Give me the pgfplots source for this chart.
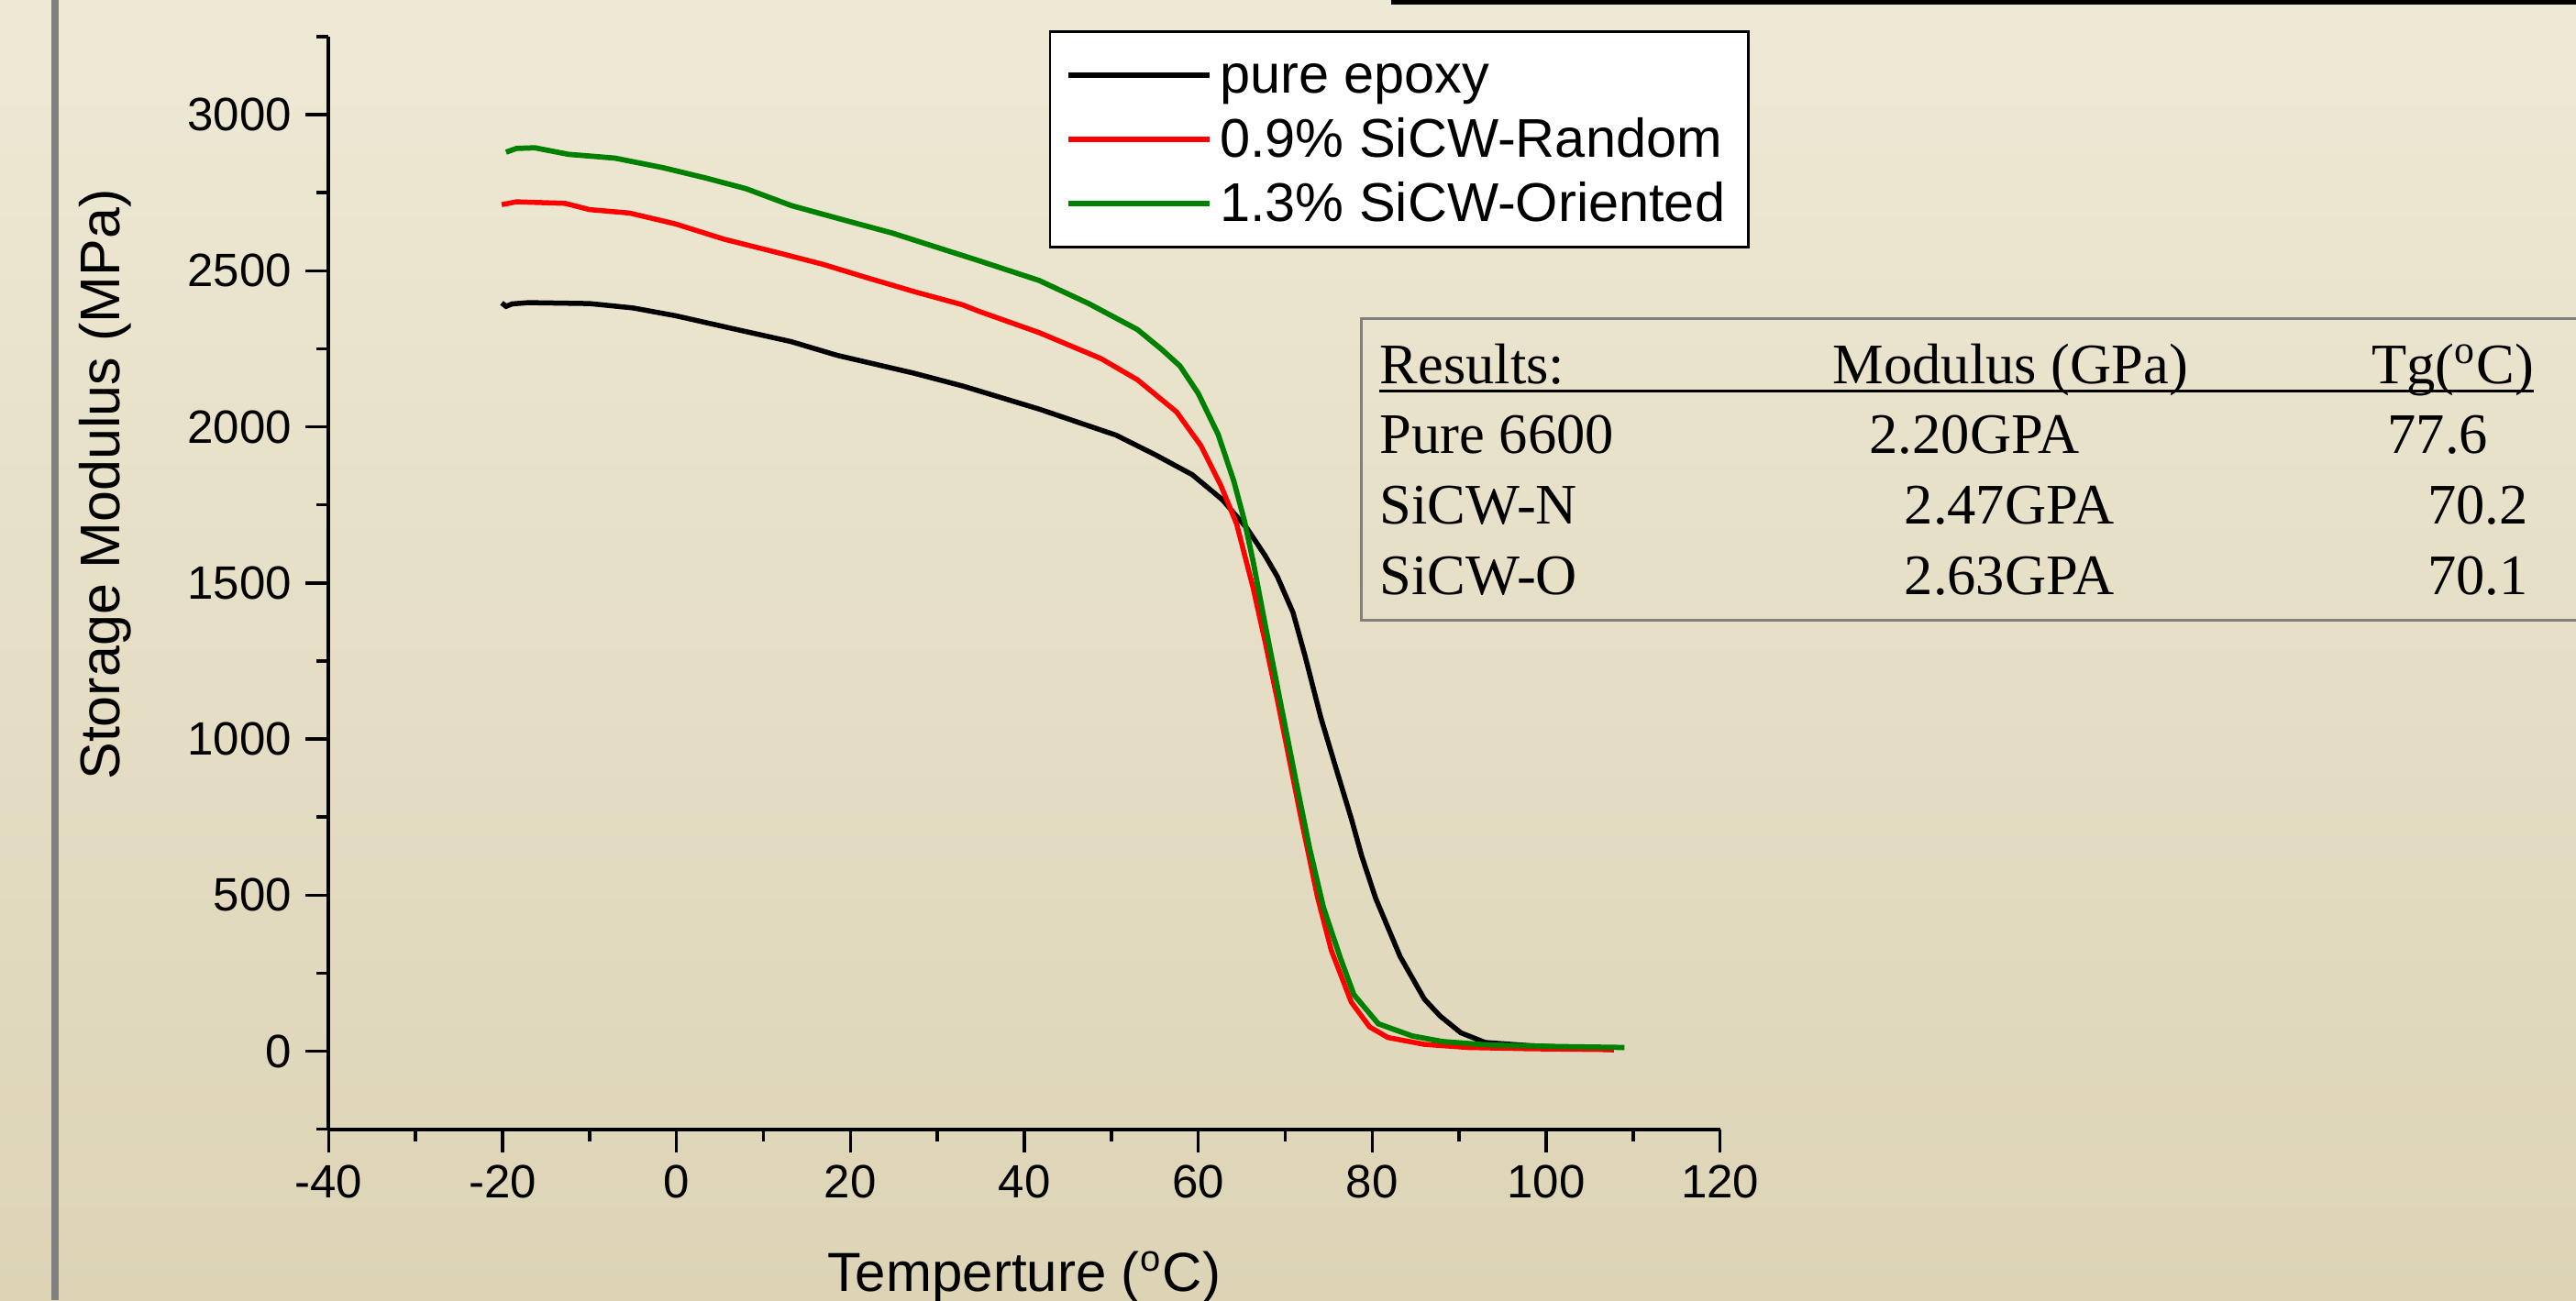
\documentclass[border=0pt]{standalone}
\usepackage{pgfplots}
\pgfplotsset{compat=1.18}
\usepackage{fontspec}
\setmainfont{Liberation Sans}
\newfontfamily\timesfont{Liberation Serif}
\definecolor{bgtop}{RGB}{238,233,213}
\definecolor{bgbot}{RGB}{221,212,182}
\definecolor{cgreen}{RGB}{0,128,0}
\definecolor{cred}{RGB}{255,0,0}
\definecolor{bargray}{RGB}{128,128,128}

\pgfplotstableread{
x y
-20.1 2397
-19.6 2386
-18.9 2394
-17.0 2398
-10.0 2395
-5.0 2381
-0.1 2356
6.9 2312
13.2 2273
18.5 2229
27.3 2172
32.9 2131
34.7 2116
41.7 2057
50.5 1974
55.1 1910
59.3 1847
62.8 1766
65.6 1675
67.7 1587
69.1 1520
70.9 1405
72.3 1264
74.1 1068
75.8 910
77.6 745
78.8 625
80.4 490
83.2 304
86.0 167
87.8 113
90.2 59
93.0 28
98.0 18
107.8 5
}\epoxy

\pgfplotstableread{
x y
-20.1 2712
-18.4 2721
-12.8 2716
-10.0 2696
-5.4 2685
-0.1 2650
5.5 2601
11.8 2557
16.8 2521
22.0 2477
27.5 2432
32.9 2391
34.7 2371
41.7 2302
48.8 2219
53.0 2151
57.5 2048
59.0 1990
60.3 1940
62.6 1812
64.4 1690
66.3 1485
67.7 1310
69.1 1125
70.5 930
71.9 735
73.7 495
75.3 323
77.6 157
79.7 78
81.8 44
86.0 22
91.0 12
98.0 8
107.8 5
}\random

\pgfplotstableread{
x y
-19.6 2880
-18.4 2892
-16.3 2894
-12.4 2873
-7.1 2861
-1.5 2830
3.4 2797
8.0 2763
13.2 2709
19.6 2660
24.8 2621
28.5 2588
34.7 2533
41.7 2469
47.4 2395
53.0 2312
55.8 2248
57.9 2195
60.0 2107
62.3 1975
64.1 1825
65.3 1700
66.3 1570
67.7 1365
68.8 1210
69.5 1110
70.6 955
71.2 870
72.8 650
74.4 460
76.4 294
77.9 181
80.7 88
84.6 49
88.1 31
93.4 20
101.5 15
109.0 12
}\oriented

\begin{document}
\begin{tikzpicture}
\useasboundingbox (0,0) rectangle (561.8pt,283.6pt);
\clip (0,0) rectangle (561.8pt,283.6pt);
\shade[top color=bgtop, bottom color=bgbot] (0,0) rectangle (561.8pt,283.6pt);
\fill[bargray] (11.2pt,0) rectangle (12.8pt,283.6pt);
\fill[black] (303.4pt,282.6pt) rectangle (561.8pt,283.6pt);
\begin{axis}[
  at={(71.68pt,37.26pt)}, anchor=south west,
  width=303.44pt, height=238.34pt, scale only axis,
  xmin=-40, xmax=120, ymin=-250, ymax=3250,
  axis x line*=bottom, axis y line*=left,
  axis line style={line width=0.8pt, black},
  tick align=outside,
  xtick={-40,-20,...,120},
  minor xtick={-30,-10,...,110},
  ytick={0,500,...,3000},
  minor ytick={-250,250,750,1250,1750,2250,2750,3250},
  major tick length=5pt, minor tick length=2.6pt,
  every tick/.style={line width=0.7pt, black},
  /pgf/number format/assume math mode=true,
  /pgf/number format/1000 sep={},
  ticklabel style={font=\fontsize{10.2}{12}\selectfont},
  xticklabel style={anchor=north, inner sep=0pt, yshift=-2.66pt},
  yticklabel style={anchor=east, inner sep=0pt, xshift=-2.9pt},
  xlabel={Temperture (\textsuperscript{o}C)},
  ylabel={Storage Modulus (MPa)},
  every axis x label/.style={at={(axis description cs:0.5,-0.148)}, anchor=base, font=\fontsize{12}{14}\selectfont},
  every axis y label/.style={at={(axis description cs:-0.1505,0.59)}, rotate=90, anchor=base, font=\fontsize{12.2}{14}\selectfont},
  legend cell align=left,
  legend image code/.code={\path (-2pt,0pt) -- (28.8pt,0pt); \draw[#1] (0pt,0pt) -- (27.7pt,0pt);},
  legend style={
    at={(0.5175,1.0056)}, anchor=north west,
    draw=black, line width=0.5pt, fill=white,
    inner xsep=3.45pt, inner ysep=2.5pt, row sep=0pt,
    font=\fontsize{11.9}{14}\selectfont,
    nodes={inner xsep=1.65pt, inner ysep=0pt},
    /tikz/every even column/.append style={nodes={text height=10.9pt, text depth=3.1pt}},
  },
  clip=false,
]
\addplot[black, line width=1.1pt] table {\epoxy};
\addlegendentry{pure epoxy}
\addplot[cred, line width=1.1pt] table {\random};
\addlegendentry{0.9\% SiCW-Random}
\addplot[cgreen, line width=1.15pt] table {\oriented};
\addlegendentry{1.3\% SiCW-Oriented}
\end{axis}
% results table
\draw[bargray, line width=0.6pt] (296.94pt,148.26pt) rectangle (570pt,214.14pt);
\draw[black, line width=0.6pt] (300.74pt,198.26pt) -- (552.6pt,198.26pt);
\begin{scope}[every node/.style={anchor=base west, inner sep=0pt, font=\timesfont\fontsize{12.5}{14}\selectfont}]
\node at (300.74pt,199.94pt) {Results:};
\node at (399.56pt,199.94pt) {Modulus (GPa)};
\node at (517pt,199.94pt) {Tg(\textsuperscript{o}C)};
\node at (300.74pt,184.6pt) {Pure 6600};
\node at (407.52pt,184.6pt) {2.20GPA};
\node at (520.54pt,184.6pt) {77.6};
\node at (300.74pt,169.26pt) {SiCW-N};
\node at (415.16pt,169.26pt) {2.47GPA};
\node at (529.2pt,169.26pt) {70.2};
\node at (300.74pt,153.94pt) {SiCW-O};
\node at (415.16pt,153.94pt) {2.63GPA};
\node at (529.2pt,153.94pt) {70.1};
\end{scope}
\end{tikzpicture}
\end{document}
